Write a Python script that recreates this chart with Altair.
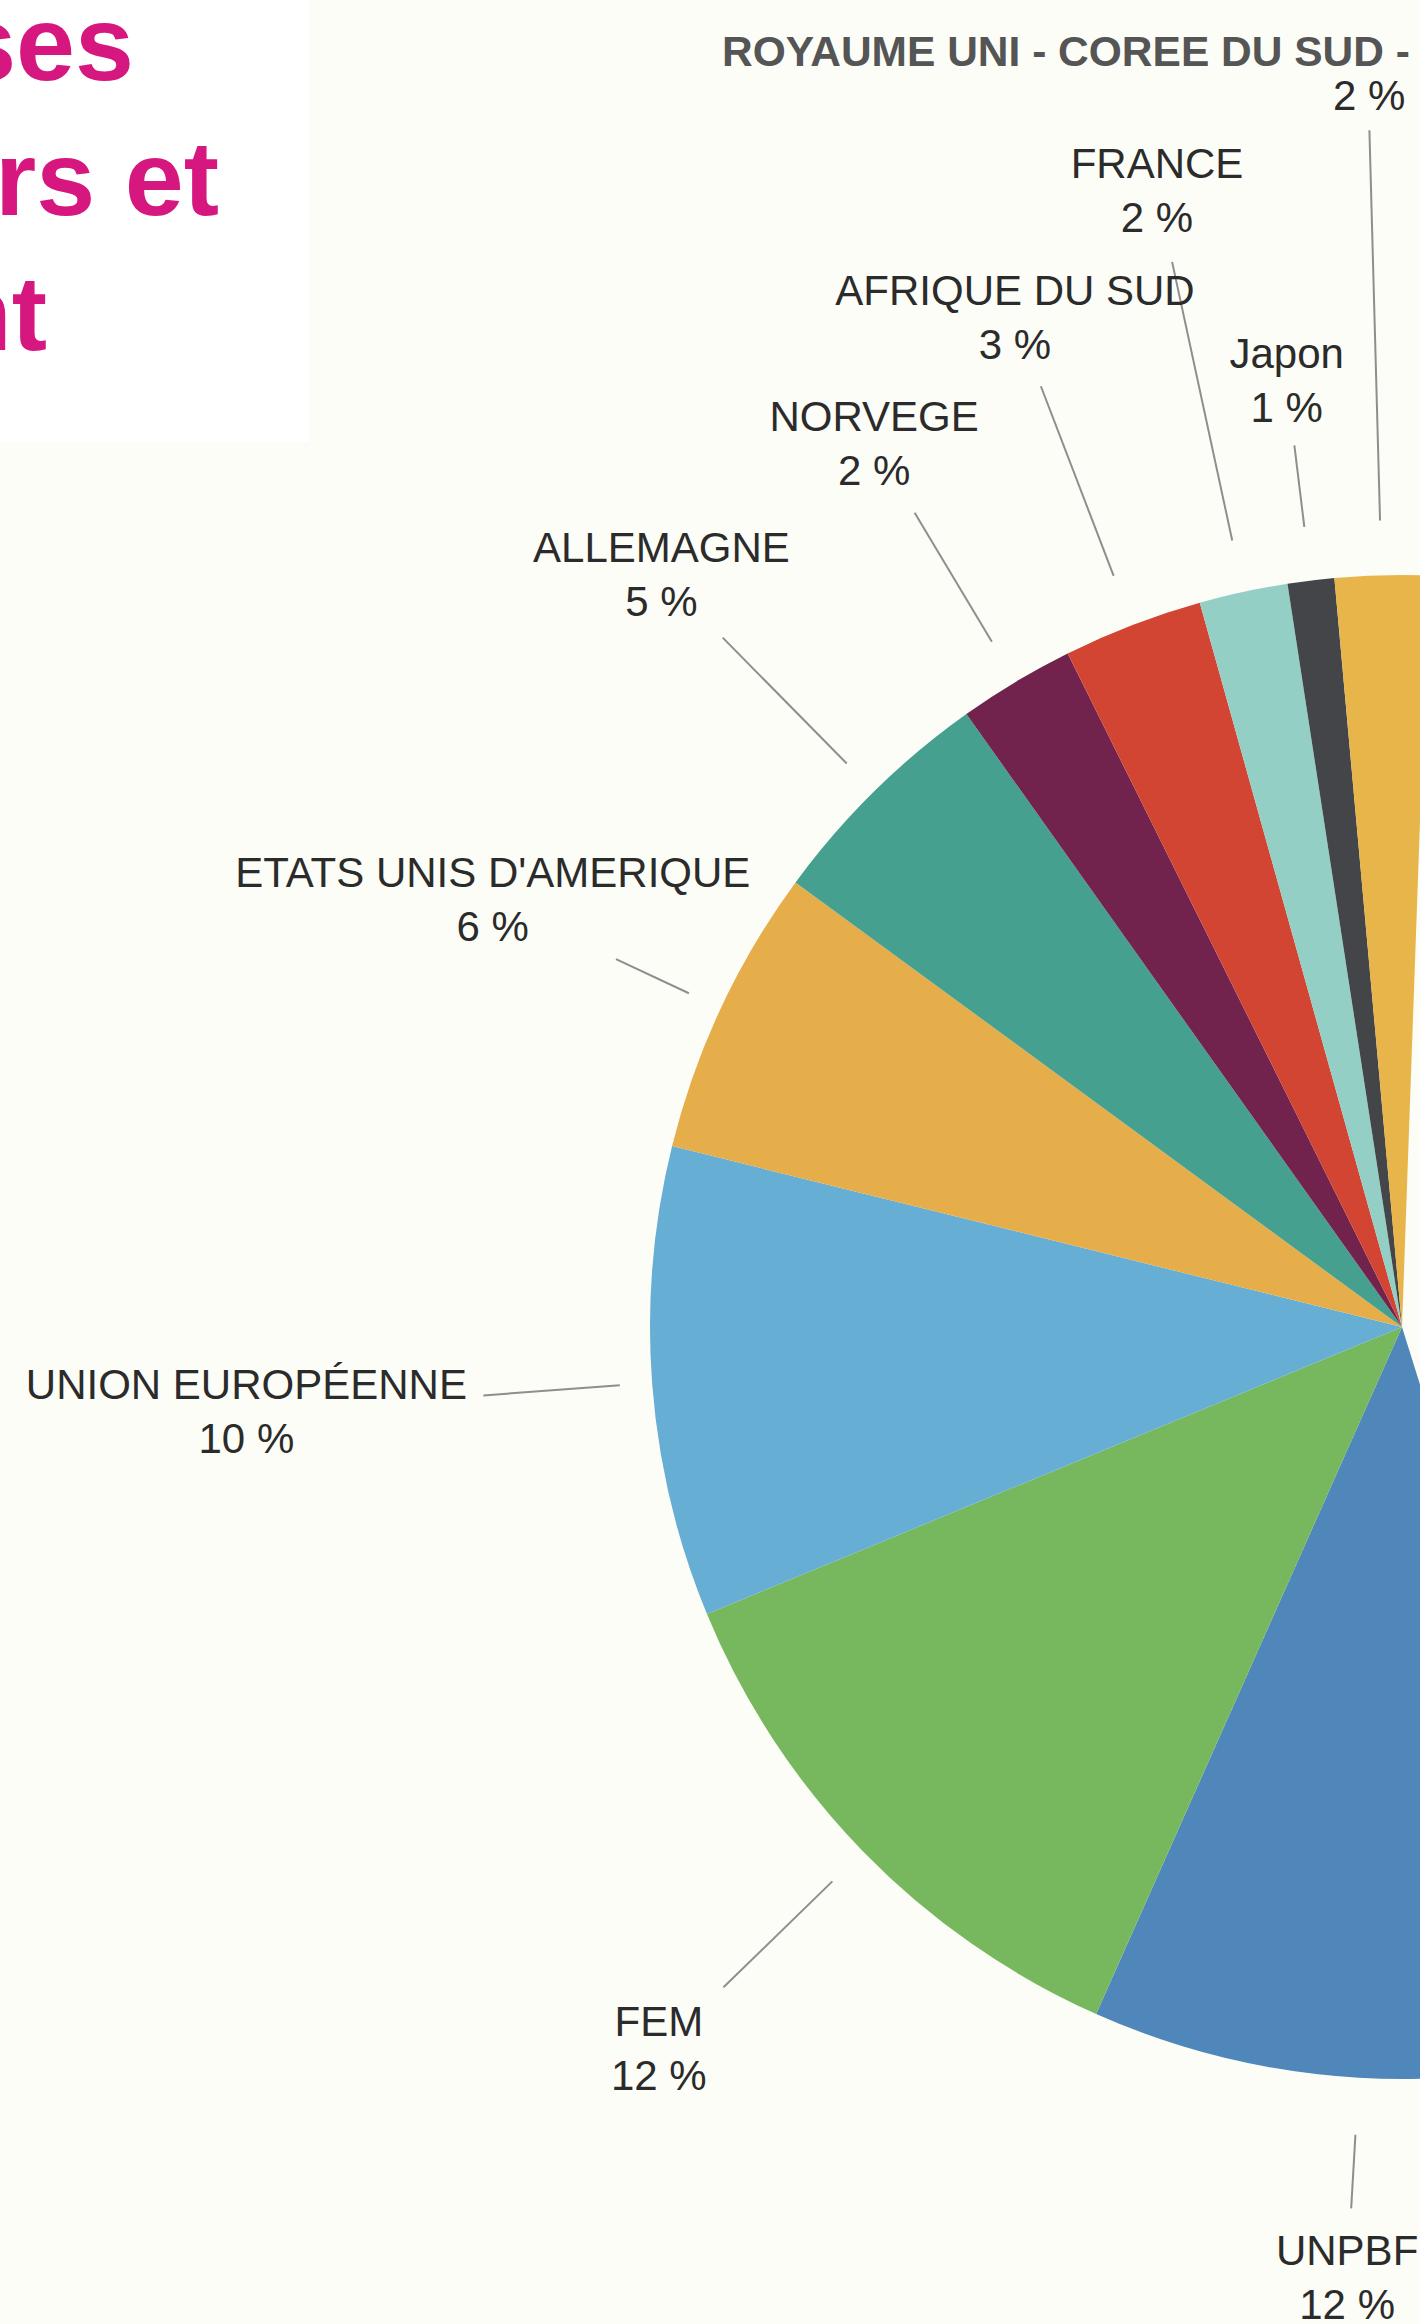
import math
import altair as alt
import pandas as pd

# ---- data (slices in clockwise order, starting at the bottom) ----
names = ["UNPBF", "FEM", "UNION EUROPÉENNE", "ETATS UNIS D'AMERIQUE", "ALLEMAGNE",
         "NORVEGE", "AFRIQUE DU SUD", "FRANCE", "Japon", "ROYAUME UNI - COREE DU SUD -"]
values = [11.5, 12.1, 10.1, 6.2, 5.1, 2.5, 3.0, 1.9, 1.0, 2.0]
pct_labels = ["12 %", "12 %", "10 %", "6 %", "5 %", "2 %", "3 %", "2 %", "1 %", "2 %"]
colors = ["#4F87BB", "#77B85F", "#67AED5", "#E5AE4B", "#45A08F",
          "#71224D", "#D24532", "#94CFC6", "#434549", "#E8B54A"]
title_lines = ["ses", "rs et", "nt"]
heading = "ROYAUME UNI - COREE DU SUD -"

# ---- annotation geometry (in pie-radius units) ----
start_deg = 162.6
line_inner = [1.076, 1.057, 1.043, 1.047, 1.052, 1.062, 1.070, 1.070, 1.072, 1.073]
line_outer = [1.174, 1.259, 1.225, 1.154, 1.287, 1.262, 1.340, 1.449, 1.181, 1.592]
label_r = [1.268, 1.379, 1.541, 1.335, 1.403, 1.367, 1.436, 1.544, 1.266, 1.600]

W, H = 1420, 2324
R = 752
CX, CY = 1402, 1327
LINE_H = 54

rows = []
cum = 0.0
for i, (n, v, p) in enumerate(zip(names, values, pct_labels)):
    mid = math.radians(start_deg + (cum + v / 2) * 3.6)
    cum += v
    s, c = math.sin(mid), math.cos(mid)
    label = p if i == len(names) - 1 else f"{n}\n{p}"
    rows.append(dict(idx=i, name=n, value=v, label=label,
                     x1=line_inner[i] * s, y1=line_inner[i] * c,
                     x2=line_outer[i] * s, y2=line_outer[i] * c,
                     lx=label_r[i] * s, ly=label_r[i] * c))
df = pd.DataFrame(rows)

xs = alt.Scale(domain=[-CX / R, (W - CX) / R], nice=False, zero=False)
ys = alt.Scale(domain=[-(H - CY) / R, CY / R], nice=False, zero=False)
a0 = math.radians(start_deg)

LABEL_FONT = "Liberation Sans, Arial, sans-serif"

one = pd.DataFrame({"k": [0]})

white_box = alt.Chart(one).mark_rect(color="#FFFFFF").encode(
    x=alt.value(0), x2=alt.value(309), y=alt.value(0), y2=alt.value(442)
)

title_df = pd.DataFrame({"t": title_lines, "px": [134, 219, 47], "py": [80, 215, 350]})
title = alt.Chart(title_df).mark_text(
    font="Liberation Sans, Arial, sans-serif", fontWeight="bold", fontSize=106,
    color="#D6177F", align="right", baseline="alphabetic"
).encode(x=alt.X("px:Q", scale=None, axis=None), y=alt.Y("py:Q", scale=None, axis=None), text="t:N")

pie = alt.Chart(df).mark_arc(outerRadius=R, clip=True).encode(
    theta=alt.Theta("value:Q", stack=True,
                    scale=alt.Scale(domain=[0, 100], range=[a0, a0 + 2 * math.pi])),
    color=alt.Color("name:N", scale=alt.Scale(domain=names, range=colors), legend=None),
    order=alt.Order("idx:Q"),
    x=alt.XDatum(0, type="quantitative", scale=xs, axis=None),
    y=alt.YDatum(0, type="quantitative", scale=ys, axis=None),
)

lines = alt.Chart(df).mark_rule(color="#8E8E8E", strokeWidth=2).encode(
    x=alt.X("x1:Q", scale=xs, axis=None), y=alt.Y("y1:Q", scale=ys, axis=None),
    x2="x2:Q", y2="y2:Q",
)

labels = alt.Chart(df).mark_text(
    font=LABEL_FONT, fontSize=42, lineHeight=LINE_H, lineBreak="\n", dy=-LINE_H / 2,
    color="#2B2B2B", align="center", baseline="middle"
).encode(
    x=alt.X("lx:Q", scale=xs, axis=None), y=alt.Y("ly:Q", scale=ys, axis=None), text="label:N"
)

head = alt.Chart(pd.DataFrame({"t": [heading]})).mark_text(
    font=LABEL_FONT, fontWeight="bold", fontSize=42.5, color="#555555",
    align="left", baseline="alphabetic"
).encode(x=alt.value(722), y=alt.value(66), text="t:N")

chart = alt.layer(white_box, title, pie, lines, labels, head).properties(
    width=W, height=H, autosize=alt.AutoSizeParams(type="none"), padding=0,
    background="#FDFDF7"
).configure_view(stroke=None)

chart.save("out.html", embed_options={"renderer": "svg", "actions": False})
